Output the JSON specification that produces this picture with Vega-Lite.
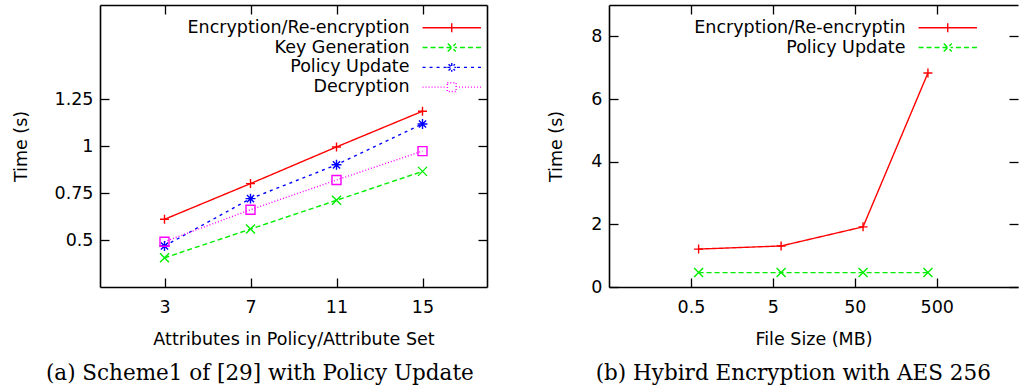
{
  "$schema": "https://vega.github.io/schema/vega-lite/v6.json",
  "padding": {"left": 12, "top": 4, "right": 0, "bottom": 0},
  "config": {
    "font": "DejaVu Sans",
    "view": {"stroke": null},
    "axis": {
      "labelFont": "DejaVu Sans", "labelFontSize": 17.5, "labelColor": "black",
      "titleFont": "DejaVu Sans", "titleFontSize": 17.5, "titleFontWeight": "normal", "titleColor": "black",
      "grid": false, "domain": true, "domainColor": "black", "domainWidth": 1.6,
      "tickColor": "black", "tickSize": -9, "tickWidth": 1.3
    },
    "legend": {
      "labelFont": "DejaVu Sans", "labelFontSize": 17.5, "labelColor": "black",
      "title": null, "padding": 0, "rowPadding": 0.8, "symbolSize": 64,
      "symbolStrokeWidth": 1.4, "symbolOpacity": 1,
      "labelAlign": "right", "labelOffset": -51, "labelLimit": 500
    },
    "title": {"font": "DejaVu Serif", "fontSize": 21.5, "fontWeight": "normal", "color": "black"},
    "concat": {"spacing": 59}
  },
  "resolve": {
    "scale": {"color": "independent", "shape": "independent", "strokeDash": "independent"},
    "legend": {"color": "independent", "shape": "independent", "strokeDash": "independent"}
  },
  "hconcat": [
    {
      "width": 387, "height": 282,
      "title": {"text": "(a) Scheme1 of [29] with Policy Update", "orient": "bottom", "anchor": "middle", "frame": "bounds", "offset": 15, "dx": 10},
      "data": {"values": [
        {"attributes": 3, "series": "Encryption/Re-encryption", "time": 0.61},
        {"attributes": 7, "series": "Encryption/Re-encryption", "time": 0.80},
        {"attributes": 11, "series": "Encryption/Re-encryption", "time": 0.995},
        {"attributes": 15, "series": "Encryption/Re-encryption", "time": 1.185},
        {"attributes": 3, "series": "Key Generation", "time": 0.405},
        {"attributes": 7, "series": "Key Generation", "time": 0.558},
        {"attributes": 11, "series": "Key Generation", "time": 0.711},
        {"attributes": 15, "series": "Key Generation", "time": 0.865},
        {"attributes": 3, "series": "Policy Update", "time": 0.468},
        {"attributes": 7, "series": "Policy Update", "time": 0.72},
        {"attributes": 11, "series": "Policy Update", "time": 0.90},
        {"attributes": 15, "series": "Policy Update", "time": 1.117},
        {"attributes": 3, "series": "Decryption", "time": 0.491},
        {"attributes": 7, "series": "Decryption", "time": 0.661},
        {"attributes": 11, "series": "Decryption", "time": 0.819},
        {"attributes": 15, "series": "Decryption", "time": 0.973}
      ]},
      "layer": [
        {
          "mark": {"type": "line", "strokeWidth": 1.4},
          "encoding": {
            "x": {"field": "attributes", "type": "quantitative",
              "scale": {"domain": [0, 18], "nice": false, "zero": false},
              "axis": {"values": [3, 7, 11, 15], "format": ".3~g", "title": "Attributes in Policy/Attribute Set", "labelPadding": 20, "titlePadding": 15}},
            "y": {"field": "time", "type": "quantitative",
              "scale": {"domain": [0.25, 1.75], "nice": false, "zero": false},
              "axis": {"values": [0.5, 0.75, 1, 1.25], "format": ".3~g", "title": "Time (s)", "labelPadding": 16, "titlePadding": 24}},
            "color": {"field": "series", "type": "nominal",
              "scale": {"domain": ["Encryption/Re-encryption", "Key Generation", "Policy Update", "Decryption"], "range": ["#ff0000", "#00ee00", "#0000ff", "#ff00ff"]},
              "legend": {"orient": "none", "legendX": 343, "legendY": 14}},
            "strokeDash": {"field": "series", "type": "nominal", "legend": null,
              "scale": {"domain": ["Encryption/Re-encryption", "Key Generation", "Policy Update", "Decryption"], "range": [[1, 0], [5, 3], [3, 4], [1, 2]]}}
          }
        },
        {
          "transform": [{"filter": "datum.series === 'Encryption/Re-encryption'"}],
          "mark": {"type": "point", "filled": false, "size": 81, "strokeWidth": 1.4, "opacity": 1, "shape": "M-1,0H1M0,-1V1"},
          "encoding": {
            "x": {"field": "attributes", "type": "quantitative",
              "axis": {"orient": "top", "values": [3, 7, 11, 15], "labels": false, "title": null}},
            "y": {"field": "time", "type": "quantitative",
              "axis": {"orient": "right", "values": [0.5, 0.75, 1, 1.25], "labels": false, "title": null}},
            "color": {"field": "series", "type": "nominal"}
          }
        },
        {
          "transform": [{"filter": "datum.series === 'Key Generation'"}],
          "mark": {"type": "point", "filled": false, "size": 81, "strokeWidth": 1.4, "opacity": 1, "shape": "M-1,-1L1,1M-1,1L1,-1"},
          "encoding": {
            "x": {"field": "attributes", "type": "quantitative", "axis": null},
            "y": {"field": "time", "type": "quantitative", "axis": null},
            "color": {"field": "series", "type": "nominal"}
          }
        },
        {
          "transform": [{"filter": "datum.series === 'Policy Update'"}],
          "mark": {"type": "point", "filled": false, "size": 81, "strokeWidth": 1.4, "opacity": 1, "shape": "M-1.1,0H1.1M0,-1.1V1.1M-0.8,-0.8L0.8,0.8M-0.8,0.8L0.8,-0.8"},
          "encoding": {
            "x": {"field": "attributes", "type": "quantitative", "axis": null},
            "y": {"field": "time", "type": "quantitative", "axis": null},
            "color": {"field": "series", "type": "nominal"}
          }
        },
        {
          "transform": [{"filter": "datum.series === 'Decryption'"}],
          "mark": {"type": "point", "filled": false, "size": 81, "strokeWidth": 1.4, "opacity": 1, "shape": "M-1,-1H1V1H-1Z"},
          "encoding": {
            "x": {"field": "attributes", "type": "quantitative", "axis": null},
            "y": {"field": "time", "type": "quantitative", "axis": null},
            "color": {"field": "series", "type": "nominal"}
          }
        },
        {
          "transform": [{"filter": "false"}],
          "mark": {"type": "point", "filled": false, "size": 64, "strokeWidth": 1.4, "opacity": 1},
          "encoding": {
            "x": {"field": "attributes", "type": "quantitative", "axis": null},
            "y": {"field": "time", "type": "quantitative", "axis": null},
            "color": {"field": "series", "type": "nominal"},
            "shape": {"field": "series", "type": "nominal",
              "scale": {"domain": ["Encryption/Re-encryption", "Key Generation", "Policy Update", "Decryption"], "range": [
                "M-7.3,0H7.3M0,-1.1V1.1",
                "M-7.3,0H-6.05M-5.3,0H-4.05M-3.3,0H-2.05M-1.3,0H1.3M2.05,0H3.3M4.05,0H5.3M6.05,0H7.3M-1,-1L1,1M-1,1L1,-1",
                "M-7.3,0H-6.55M-5.55,0H-4.8M-3.8,0H-3.05M-2.05,0H-1.3M1.3,0H2.05M3.05,0H3.8M4.8,0H5.55M6.55,0H7.3M-1.1,0H1.1M0,-1.1V1.1M-0.8,-0.8L0.8,0.8M-0.8,0.8L0.8,-0.8",
                "M-7.3,0H-7.05M-6.55,0H-6.3M-5.8,0H-5.55M-5.05,0H-4.8M-4.3,0H-4.05M-3.55,0H-3.3M-2.8,0H-2.55M-2.05,0H-1.8M1.8,0H2.05M2.55,0H2.8M3.3,0H3.55M4.05,0H4.3M4.8,0H5.05M5.55,0H5.8M6.3,0H6.55M7.05,0H7.3M-1.1,-1.1H1.1V1.1H-1.1Z"
              ]},
              "legend": {"orient": "none", "legendX": 343, "legendY": 14}}
          }
        }
      ],
      "resolve": {"axis": {"x": "independent", "y": "independent"}}
    },
    {
      "width": 409, "height": 282,
      "title": {"text": "(b) Hybird Encryption with AES 256", "orient": "bottom", "anchor": "middle", "frame": "bounds", "offset": 15, "dx": 10},
      "data": {"values": [
        {"size": 0.62, "series": "Encryption/Re-encryptin", "time": 1.21},
        {"size": 6.3, "series": "Encryption/Re-encryptin", "time": 1.31},
        {"size": 63, "series": "Encryption/Re-encryptin", "time": 1.92},
        {"size": 390, "series": "Encryption/Re-encryptin", "time": 6.83},
        {"size": 0.62, "series": "Policy Update", "time": 0.46},
        {"size": 6.3, "series": "Policy Update", "time": 0.46},
        {"size": 63, "series": "Policy Update", "time": 0.46},
        {"size": 390, "series": "Policy Update", "time": 0.46}
      ]},
      "layer": [
        {
          "mark": {"type": "line", "strokeWidth": 1.4},
          "encoding": {
            "x": {"field": "size", "type": "quantitative",
              "scale": {"type": "log", "domain": [0.05, 4900], "nice": false},
              "axis": {"values": [0.5, 5, 50, 500], "format": ".3~g", "title": "File Size (MB)", "labelPadding": 20, "titlePadding": 15}},
            "y": {"field": "time", "type": "quantitative",
              "scale": {"domain": [0, 9], "nice": false, "zero": false},
              "axis": {"values": [0, 2, 4, 6, 8], "format": ".3~g", "title": "Time (s)", "labelPadding": 16, "titlePadding": 25}},
            "color": {"field": "series", "type": "nominal",
              "scale": {"domain": ["Encryption/Re-encryptin", "Policy Update"], "range": ["#ff0000", "#00ee00"]},
              "legend": {"orient": "none", "legendX": 330, "legendY": 14}},
            "strokeDash": {"field": "series", "type": "nominal", "legend": null,
              "scale": {"domain": ["Encryption/Re-encryptin", "Policy Update"], "range": [[1, 0], [5, 3]]}}
          }
        },
        {
          "transform": [{"filter": "datum.series === 'Encryption/Re-encryptin'"}],
          "mark": {"type": "point", "filled": false, "size": 81, "strokeWidth": 1.4, "opacity": 1, "shape": "M-1,0H1M0,-1V1"},
          "encoding": {
            "x": {"field": "size", "type": "quantitative",
              "axis": {"orient": "top", "values": [0.5, 5, 50, 500], "labels": false, "title": null}},
            "y": {"field": "time", "type": "quantitative",
              "axis": {"orient": "right", "values": [0, 2, 4, 6, 8], "labels": false, "title": null, "domain": false}},
            "color": {"field": "series", "type": "nominal"}
          }
        },
        {
          "transform": [{"filter": "datum.series === 'Policy Update'"}],
          "mark": {"type": "point", "filled": false, "size": 81, "strokeWidth": 1.4, "opacity": 1, "shape": "M-1,-1L1,1M-1,1L1,-1"},
          "encoding": {
            "x": {"field": "size", "type": "quantitative", "axis": null},
            "y": {"field": "time", "type": "quantitative", "axis": null},
            "color": {"field": "series", "type": "nominal"}
          }
        },
        {
          "transform": [{"filter": "false"}],
          "mark": {"type": "point", "filled": false, "size": 64, "strokeWidth": 1.4, "opacity": 1},
          "encoding": {
            "x": {"field": "size", "type": "quantitative", "axis": null},
            "y": {"field": "time", "type": "quantitative", "axis": null},
            "color": {"field": "series", "type": "nominal"},
            "shape": {"field": "series", "type": "nominal",
              "scale": {"domain": ["Encryption/Re-encryptin", "Policy Update"], "range": [
                "M-7.3,0H7.3M0,-1.1V1.1",
                "M-7.3,0H-6.05M-5.3,0H-4.05M-3.3,0H-2.05M-1.3,0H1.3M2.05,0H3.3M4.05,0H5.3M6.05,0H7.3M-1,-1L1,1M-1,1L1,-1"
              ]},
              "legend": {"orient": "none", "legendX": 330, "legendY": 14}}
          }
        }
      ],
      "resolve": {"axis": {"x": "independent", "y": "independent"}}
    }
  ]
}
